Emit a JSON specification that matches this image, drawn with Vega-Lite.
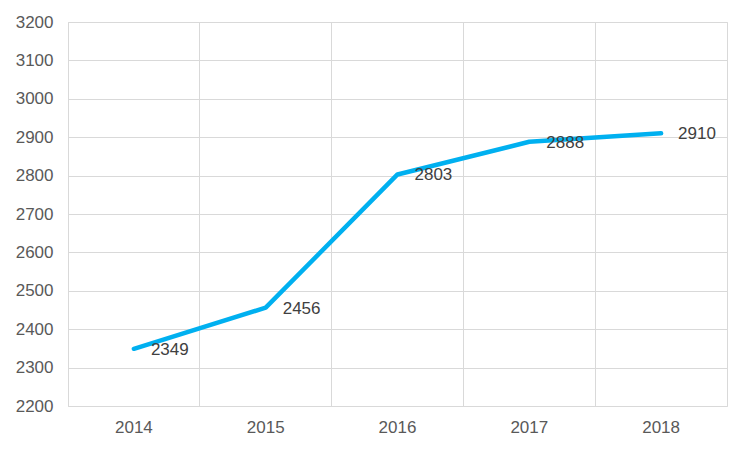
{
  "$schema": "https://vega.github.io/schema/vega-lite/v6.json",
  "width": 659,
  "height": 384,
  "autosize": {"type": "none"},
  "padding": {"left": 68, "top": 22, "right": 23, "bottom": 44},
  "background": "white",
  "config": {
    "view": {"stroke": "#D9D9D9", "strokeWidth": 1},
    "font": "Liberation Sans",
    "axis": {
      "labelFont": "Liberation Sans",
      "labelFontSize": 17,
      "labelColor": "#595959",
      "gridColor": "#D9D9D9",
      "gridWidth": 1,
      "domain": false,
      "ticks": false,
      "title": null
    }
  },
  "data": {
    "values": [
      {"year": "2014", "value": 2349},
      {"year": "2015", "value": 2456},
      {"year": "2016", "value": 2803},
      {"year": "2017", "value": 2888},
      {"year": "2018", "value": 2910}
    ]
  },
  "encoding": {
    "y": {
      "field": "value",
      "type": "quantitative",
      "scale": {"domain": [2200, 3200], "nice": false, "zero": false},
      "axis": {"values": [2200,2300,2400,2500,2600,2700,2800,2900,3000,3100,3200], "format": "d", "labelPadding": 15, "grid": true}
    }
  },
  "layer": [
    {
      "mark": {"type": "line", "color": "#00B0F0", "strokeWidth": 4.5, "strokeCap": "round", "strokeJoin": "round"},
      "encoding": {
        "x": {
          "field": "year",
          "type": "nominal",
          "scale": {"type": "band", "paddingInner": 0, "paddingOuter": 0},
          "axis": {"labelAngle": 0, "labelPadding": 13, "grid": false, "orient": "bottom"}
        }
      }
    },
    {
      "mark": {"type": "text", "align": "left", "baseline": "middle", "dx": 17, "dy": 1, "fontSize": 17, "color": "#404040", "font": "Liberation Sans"},
      "encoding": {
        "x": {
          "field": "year",
          "type": "nominal",
          "scale": {"type": "band", "paddingInner": 0, "paddingOuter": 0},
          "axis": {"labels": false, "grid": true, "bandPosition": 0, "orient": "bottom"}
        },
        "text": {"field": "value", "type": "quantitative"}
      }
    }
  ],
  "resolve": {"axis": {"x": "independent"}}
}
